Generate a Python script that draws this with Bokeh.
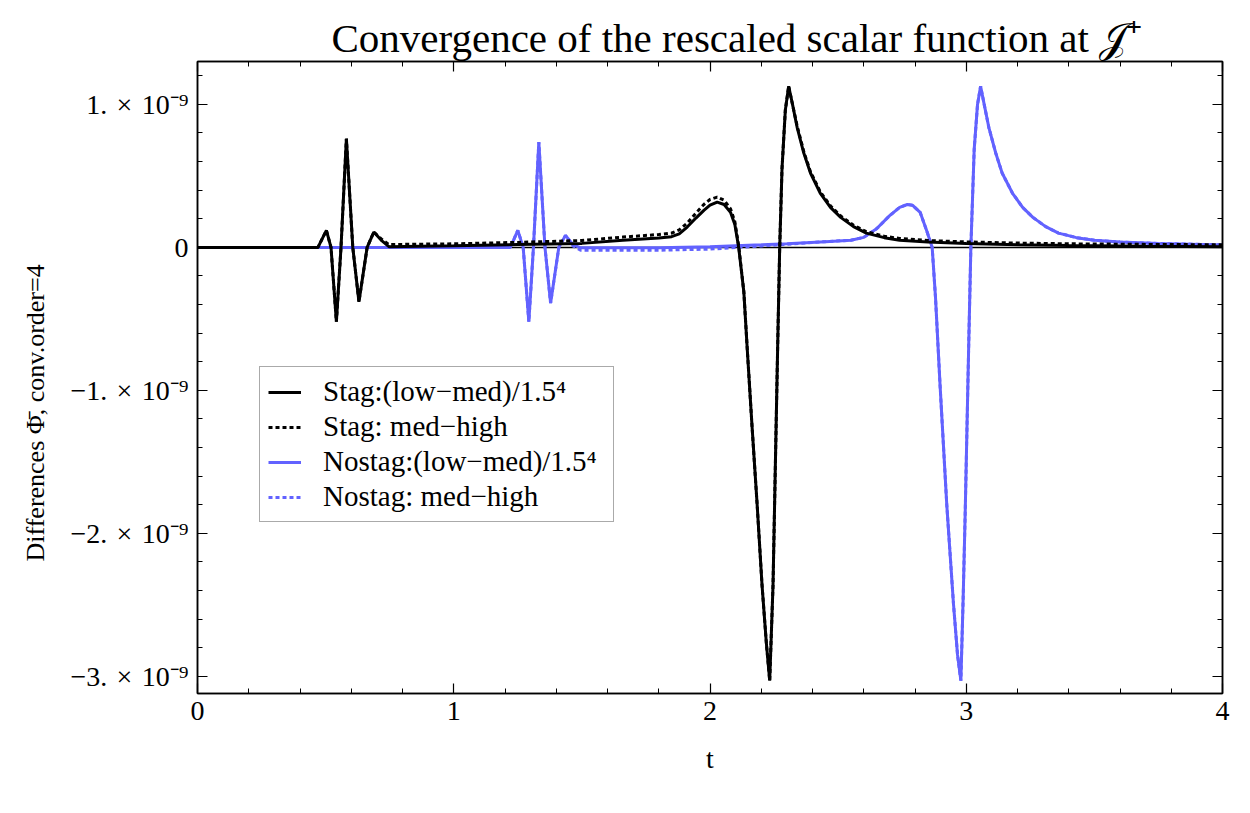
from bokeh.plotting import figure
from bokeh.models import Range1d, FixedTicker, LinearAxis, Legend, LegendItem, Span, Title
from bokeh.embed import file_html
from bokeh.resources import INLINE

# ---- data: differences of the rescaled scalar field at scri+ (units of 1e-9) ----
stag_t = [0.000, 0.470, 0.503, 0.521, 0.542, 0.560, 0.581, 0.606, 0.630, 0.662,
          0.688, 0.720, 0.747, 1.000, 1.250, 1.500, 1.660, 1.800, 1.850, 1.880,
          1.911, 1.945, 1.976, 2.000, 2.028, 2.055, 2.080, 2.097, 2.112, 2.132,
          2.145, 2.164, 2.184, 2.203, 2.220, 2.233, 2.246, 2.255, 2.264, 2.272,
          2.281, 2.294, 2.307, 2.322, 2.340, 2.366, 2.392, 2.430, 2.470, 2.510,
          2.560, 2.610, 2.680, 2.740, 2.850, 3.000, 3.200, 3.400, 3.700, 4.000]
stag_low_med = [0.000, 0.000, 0.119, 0.000, -0.520, 0.000, 0.760, 0.000, -0.380, 0.000,
                0.107, 0.045, 0.005, 0.012, 0.020, 0.028, 0.050, 0.066, 0.075, 0.095,
                0.142, 0.205, 0.259, 0.295, 0.317, 0.300, 0.245, 0.160, 0.000, -0.310,
                -0.700, -1.250, -1.800, -2.360, -2.770, -3.030, -2.360, -1.530, -0.700, 0.000,
                0.550, 0.960, 1.127, 1.000, 0.840, 0.660, 0.520, 0.380, 0.280, 0.210,
                0.145, 0.100, 0.068, 0.050, 0.037, 0.027, 0.019, 0.013, 0.008, 0.005]
stag_med_high = [0.000, 0.000, 0.119, 0.000, -0.520, 0.000, 0.760, 0.000, -0.380, 0.000,
                 0.107, 0.055, 0.020, 0.025, 0.035, 0.048, 0.072, 0.090, 0.100, 0.122,
                 0.170, 0.240, 0.300, 0.335, 0.352, 0.330, 0.270, 0.180, 0.010, -0.310,
                 -0.700, -1.250, -1.800, -2.360, -2.770, -3.030, -2.360, -1.530, -0.700, 0.000,
                 0.550, 0.960, 1.127, 1.000, 0.850, 0.670, 0.530, 0.390, 0.290, 0.220,
                 0.155, 0.110, 0.078, 0.062, 0.048, 0.038, 0.030, 0.025, 0.021, 0.018]

nostag_t = [0.000, 1.221, 1.250, 1.271, 1.293, 1.311, 1.332, 1.356, 1.378, 1.410,
            1.436, 1.465, 1.495, 1.800, 2.000, 2.200, 2.300, 2.450, 2.550, 2.600,
            2.650, 2.700, 2.740, 2.770, 2.790, 2.820, 2.845, 2.867, 2.880, 2.898,
            2.924, 2.950, 2.966, 2.979, 2.988, 2.996, 3.003, 3.010, 3.018, 3.031,
            3.044, 3.056, 3.070, 3.088, 3.115, 3.140, 3.180, 3.220, 3.260, 3.310,
            3.360, 3.430, 3.500, 3.600, 3.750, 3.950, 4.000]
nostag_low_med = [0.000, 0.000, 0.119, 0.000, -0.520, 0.000, 0.736, 0.000, -0.390, 0.000,
                  0.084, 0.020, -0.003, -0.002, 0.005, 0.018, 0.025, 0.040, 0.050, 0.070,
                  0.130, 0.220, 0.280, 0.300, 0.295, 0.245, 0.120, 0.000, -0.350, -0.970,
                  -1.800, -2.490, -2.850, -3.030, -2.450, -1.850, -1.250, -0.650, 0.000, 0.685,
                  1.000, 1.127, 1.000, 0.840, 0.660, 0.520, 0.380, 0.280, 0.210, 0.145,
                  0.100, 0.068, 0.050, 0.037, 0.027, 0.019, 0.017]
nostag_med_high = [0.000, 0.000, 0.119, 0.000, -0.520, 0.000, 0.736, 0.000, -0.390, 0.000,
                   0.084, 0.010, -0.020, -0.020, -0.012, 0.010, 0.022, 0.040, 0.050, 0.070,
                   0.130, 0.220, 0.280, 0.300, 0.295, 0.245, 0.120, 0.000, -0.350, -0.970,
                   -1.800, -2.490, -2.850, -3.030, -2.450, -1.850, -1.250, -0.650, 0.000, 0.685,
                   1.000, 1.127, 1.000, 0.840, 0.660, 0.520, 0.380, 0.280, 0.210, 0.145,
                   0.100, 0.068, 0.050, 0.037, 0.027, 0.020, 0.018]

series_labels = ["Stag:(low\u2212med)/1.5\u2074", "Stag: med\u2212high",
                 "Nostag:(low\u2212med)/1.5\u2074", "Nostag: med\u2212high"]

x_major = [0, 1, 2, 3, 4]
y_major = [-3, -2, -1, 0, 1]
y_labels = ["\u22123.\u2004\u00d7\u200410\u207b\u2079",
            "\u22122.\u2004\u00d7\u200410\u207b\u2079",
            "\u22121.\u2004\u00d7\u200410\u207b\u2079",
            "0",
            "1.\u2004\u00d7\u200410\u207b\u2079"]

FONT = "Liberation Serif"
BLUE = "#6262ff"

p = figure(width=1250, height=813, x_range=Range1d(0, 4), y_range=Range1d(-3.12, 1.30),
           output_backend="svg", toolbar_location=None, tools="",
           min_border_left=197, min_border_right=28, min_border_top=61, min_border_bottom=120)

p.title.text = "Convergence of the rescaled scalar function at \U0001D4A5\u207a"
p.title.align = "left"
p.title.offset = 134
p.title.text_font = FONT
p.title.text_font_size = "41px"
p.title.text_font_style = "normal"
p.title.text_color = "black"
p.title.standoff = 2

p.xgrid.visible = False
p.ygrid.visible = False
p.outline_line_color = "black"
p.outline_line_width = 1.5
p.background_fill_color = "white"
p.border_fill_color = "white"

x_ticker = FixedTicker(ticks=x_major, minor_ticks=[i * 0.2 for i in range(21)])
y_ticker = FixedTicker(ticks=y_major, minor_ticks=[-3.0 + i * 0.2 for i in range(22)])

def style_axis(ax, ticker, show_labels):
    ax.ticker = ticker
    ax.axis_line_color = "black"
    ax.axis_line_width = 1.5
    ax.major_tick_line_color = "black"
    ax.minor_tick_line_color = "black"
    ax.major_tick_line_width = 1.2
    ax.minor_tick_line_width = 1.0
    ax.major_tick_in = 10
    ax.major_tick_out = 0
    ax.minor_tick_in = 5
    ax.minor_tick_out = 0
    if show_labels:
        ax.major_label_text_font = FONT
        ax.major_label_text_font_size = "28px"
        ax.major_label_text_color = "black"
        ax.axis_label_text_font = FONT
        ax.axis_label_text_font_style = "normal"
        ax.axis_label_text_color = "black"
    else:
        ax.major_label_text_font_size = "0px"
        ax.major_label_text_color = None
        ax.major_label_standoff = 0

style_axis(p.xaxis[0], x_ticker, True)
p.xaxis[0].axis_label = "t"
p.xaxis[0].axis_label_text_font_size = "28px"
p.xaxis[0].major_label_standoff = 8
p.xaxis[0].axis_label_standoff = 20

style_axis(p.yaxis[0], y_ticker, True)
p.yaxis[0].major_label_standoff = 9
p.yaxis[0].major_label_overrides = {v: s for v, s in zip(y_major, y_labels)}

# y-axis caption placed as a side title, anchored at the bottom of the frame
y_caption = Title(text="Differences \u03a6\u0304, conv.order=4", align="left", offset=132,
                  vertical_align="bottom", standoff=36,
                  text_font=FONT, text_font_size="26px", text_font_style="normal",
                  text_color="black")
p.add_layout(y_caption, "left")

top_axis = LinearAxis()
style_axis(top_axis, x_ticker, False)
p.add_layout(top_axis, "above")
right_axis = LinearAxis()
style_axis(right_axis, y_ticker, False)
p.add_layout(right_axis, "right")

p.add_layout(Span(location=0, dimension="width", line_color="black", line_width=1.5,
                  level="underlay"))

# blue runs first so the black runs sit on top along the shared zero stretch
r3 = p.line(nostag_t, nostag_low_med, line_color=BLUE, line_width=3)
r4 = p.line(nostag_t, nostag_med_high, line_color=BLUE, line_width=3, line_dash="4 3")
r1 = p.line(stag_t, stag_low_med, line_color="black", line_width=3)
r2 = p.line(stag_t, stag_med_high, line_color="black", line_width=3, line_dash="4 3")

legend = Legend(
    items=[LegendItem(label=lbl, renderers=[r]) for lbl, r in zip(series_labels, [r1, r2, r3, r4])],
    location=(62, 171),
    label_text_font=FONT, label_text_font_size="29px", label_text_color="black",
    glyph_width=33, glyph_height=24, label_height=24, label_width=282, label_standoff=22,
    padding=8, spacing=2, margin=0,
    border_line_color="#555555", border_line_width=1,
    background_fill_color="white", background_fill_alpha=1.0,
)
p.add_layout(legend)

open("out.html", "w").write(file_html(p, INLINE))
